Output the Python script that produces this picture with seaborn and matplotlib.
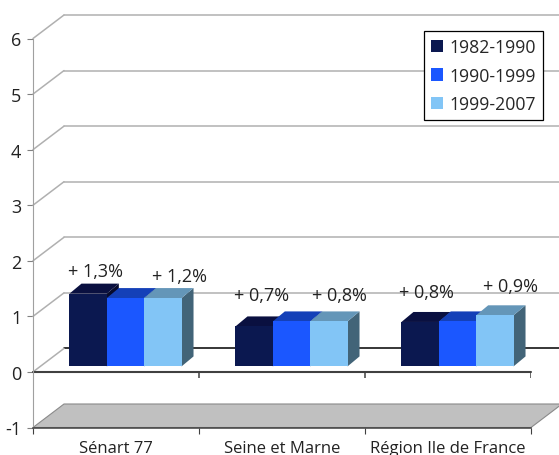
import numpy as np
import pandas as pd
import matplotlib
matplotlib.use("Agg")
import matplotlib.pyplot as plt
from matplotlib.patches import Polygon
from matplotlib.transforms import Affine2D
import seaborn as sns

# data
categories = ["Sénart 77", "Seine et Marne", "Région Ile de France"]
periods = ["1982-1990", "1990-1999", "1999-2007"]
values_1982 = [1.31, 0.72, 0.80]
values_1990 = [1.23, 0.81, 0.81]
values_1999 = [1.23, 0.81, 0.92]
labels = [["+ 1,3%", "+ 1,2%"], ["+ 0,7%", "+ 0,8%"], ["+ 0,8%", "+ 0,9%"]]
y_ticks = [-1, 0, 1, 2, 3, 4, 5, 6]

# pixel offsets of the labels from the top of their bar
label_offsets = [[(7, 23), (17, 22)], [(7, 31), (11, 26)], [(6, 30), (16, 29)]]

front_colors = ["#0b1850", "#1b57ff", "#82c5f6"]
top_colors = ["#0a1040", "#1440b8", "#6496b8"]
side_colors = ["#070b2c", "#10307f", "#426478"]

sns.set_style("white")
plt.rcParams["font.family"] = ["Open Sans", "DejaVu Sans"]
plt.rcParams["axes.unicode_minus"] = False

df = pd.DataFrame({
    "category": categories * 3,
    "period": np.repeat(periods, 3),
    "value": values_1982 + values_1990 + values_1999,
})

fig = plt.figure(figsize=(5.59, 4.56), dpi=100)
ax = fig.add_axes([33 / 559, 27.5 / 456, 498 / 559, 389 / 456])

sns.barplot(data=df, x="category", y="value", hue="period", palette=front_colors,
            width=0.675, gap=0, saturation=1, errorbar=None, ax=ax, zorder=5, linewidth=0)

ax.set_xlim(-0.5, 2.5)
ax.set_ylim(-1, 6)

# px to data units
ux = 166.0
uy = 389 / 7
wall_dx = 31 / ux
wall_dy = 23.5 / uy
bar_dx = 9.5
bar_dy = 5.5
depth_dx = 12 / ux
depth_dy = 10 / uy

# back wall
for v in y_ticks[1:]:
    col = "black" if v == 0 else "#b0b0b0"
    ax.plot([-0.5 + wall_dx, 2.5 + wall_dx], [v + wall_dy, v + wall_dy], color=col,
            lw=1.1, clip_on=False, zorder=1)
    ax.plot([-0.5, -0.5 + wall_dx], [v, v + wall_dy], color="#b0b0b0", lw=1.1,
            clip_on=False, zorder=1)

# floor
ax.add_patch(Polygon([(-0.5, -1), (-0.5 + wall_dx, -1 + wall_dy), (2.5 + wall_dx, -1 + wall_dy), (2.5, -1)],
                     closed=True, facecolor="#c0c0c0", edgecolor="#8a8a8a", lw=0.8,
                     clip_on=False, zorder=1))

# zero line with its ticks
ax.plot([-0.5, 2.5], [0, 0], color="#404040", lw=1.5, clip_on=False, zorder=2)
ax.vlines([-0.5, 0.5, 1.5, 2.5], -6 / uy, 0, color="#404040", lw=1.1, zorder=2)

# bars: shift front, add side and top faces
shift = Affine2D().translate(bar_dx, bar_dy)
sx = bar_dx / ux
sy = bar_dy / uy
bars = [c for c in ax.containers]
for i, cont in enumerate(bars):
    for j, bar in enumerate(cont):
        bar.set_transform(bar.get_data_transform() + shift)
        bar.set_clip_on(False)
        bar.set_zorder(5 + j * 10 + i * 3 + 2)
        x0 = bar.get_x() + sx
        x1 = x0 + bar.get_width()
        y1 = bar.get_height() + sy
        y0 = sy
        z = 5 + j * 10 + i * 3
        ax.add_patch(Polygon([(x1, y0), (x1 + depth_dx, y0 + depth_dy), (x1 + depth_dx, y1 + depth_dy), (x1, y1)],
                             closed=True, facecolor=side_colors[i], lw=0, clip_on=False, zorder=z))
        ax.add_patch(Polygon([(x0, y1), (x0 + depth_dx, y1 + depth_dy), (x1 + depth_dx, y1 + depth_dy), (x1, y1)],
                             closed=True, facecolor=top_colors[i], lw=0, clip_on=False, zorder=z + 1))

# labels only on first and last bar of each group
for j in range(3):
    for k, i in enumerate([0, 2]):
        bar = bars[i][j]
        ax.annotate(labels[j][k], xy=(bar.get_x() + bar.get_width() / 2 + sx, bar.get_height() + sy),
                    xytext=label_offsets[j][k], textcoords="offset pixels", ha="center", va="center",
                    fontsize=13, color="#222222", annotation_clip=False, zorder=60)

# axes
sns.despine(ax=ax, top=True, right=True)
ax.spines["left"].set_color("#a0a0a0")
ax.spines["bottom"].set_color("#404040")
ax.spines["bottom"].set_linewidth(1.1)
ax.set_xlabel("")
ax.set_ylabel("")
ax.set_yticks(y_ticks)
ax.set_xticks([-0.5, 0.5, 1.5, 2.5])
ax.set_xticklabels([])
ax.set_xticks([0, 1, 2], categories, minor=True)
ax.tick_params(axis="x", which="major", length=4.5, width=0.8, color="#404040", bottom=True)
ax.tick_params(axis="x", which="minor", length=0, labelsize=12, pad=9, labelcolor="#222222", bottom=True)
ax.tick_params(axis="y", length=4.5, width=0.8, color="#808080", left=True, labelsize=13, pad=4,
               labelcolor="#222222")

# legend
handles, texts = ax.get_legend_handles_labels()
leg = ax.legend(handles, texts, loc="upper left", bbox_to_anchor=(424 / 559, 1 - 32 / 456),
                bbox_transform=fig.transFigure, fontsize=12.7, frameon=True, fancybox=False,
                edgecolor="black", framealpha=1, handlelength=0.7, handleheight=0.7,
                handletextpad=0.34, labelspacing=0.6, borderpad=0.4, borderaxespad=0, title=None)
leg.get_frame().set_linewidth(0.9)
leg.set_zorder(70)
for h in leg.get_patches():
    h.set_linewidth(0)

fig.savefig("out.png", dpi=100)
